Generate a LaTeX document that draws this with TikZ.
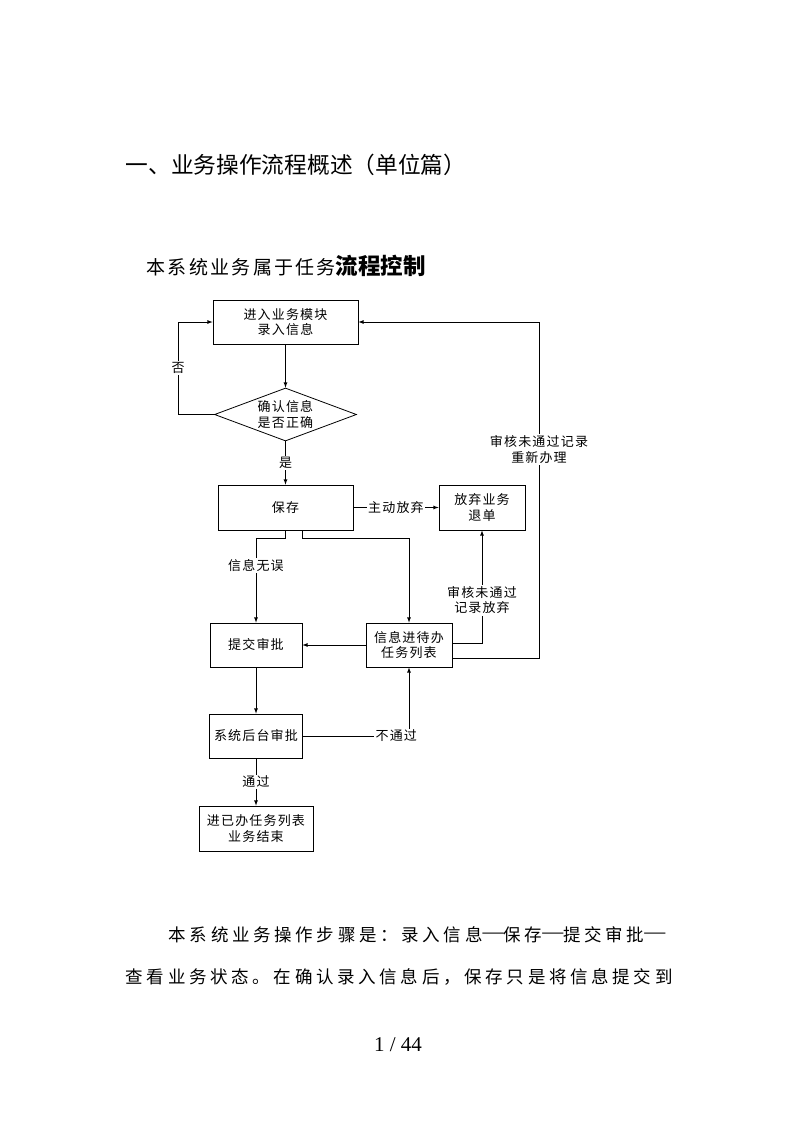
\documentclass[tikz,border=0pt]{standalone}
\usepackage{fontspec}
\setmainfont{Liberation Serif}
\newfontfamily\cjk{Noto Sans CJK SC}
\newfontfamily\cjkbox[LetterSpace=9]{Noto Sans CJK SC}
\newfontfamily\cjksub[LetterSpace=12]{Noto Sans CJK SC}
\newfontfamily\cjkbody[LetterSpace=21]{Noto Sans CJK SC}
\newcommand{\longdash}{\raisebox{0.16em}{\rmfamily\fontsize{21}{22}\selectfont —}}
\usetikzlibrary{arrows,shapes.geometric}

\tikzset{
	box/.style={draw, rectangle, align=center, inner sep=0pt, font=\cjkbox\fontsize{13}{15.5}\selectfont},
	lbl/.style={fill=white, inner sep=1.5pt, align=center, font=\cjkbox\fontsize{13}{15.5}\selectfont},
}

\begin{document}
\begin{tikzpicture}[>=latex, x=1pt, y=-1pt, line width=0.8pt]
	\useasboundingbox [fill=white] (0,0) rectangle (793,1122);
	%Titoli
	\node [anchor=west, font=\cjk\fontsize{22.7}{26}\selectfont] (title) at (122,165) {一、业务操作流程概述（单位篇）};
	\node [anchor=west, font=\cjksub\fontsize{19}{24}\selectfont] (intro) at (143,266) {本系统业务属于任务{\cjk\bfseries\fontsize{22.5}{26}\selectfont 流程控制}};
	%Caselle
	\node [box, minimum width=145pt, minimum height=44pt] (entry) at (285.5,322) {进入业务模块\\录入信息};
	\node [box, diamond, aspect=2.68, minimum width=142pt, minimum height=53pt] (check) at (285.5,414.5) {确认信息\\是否正确};
	\node [box, minimum width=135pt, minimum height=45pt] (save) at (285.5,507.5) {保存};
	\node [box, minimum width=86pt, minimum height=45pt] (quit) at (482,507.5) {放弃业务\\退单};
	\node [box, minimum width=92pt, minimum height=44pt] (submit) at (256,645) {提交审批};
	\node [box, minimum width=86pt, minimum height=44pt] (pending) at (409,645) {信息进待办\\任务列表};
	\node [box, minimum width=93pt, minimum height=44pt] (backend) at (256,736) {系统后台审批};
	\node [box, minimum width=114pt, minimum height=45pt] (done) at (256,828.5) {进已办任务列表\\业务结束};
	%Punti di ritorno
	\coordinate (lloop) at (178,414.5);
	\coordinate (rloop) at (539,322);
	%Collegamenti
	\draw [->] (entry) -- (check);
	\draw [->] (check.west) -- (lloop) |- (entry.west) node [lbl, pos=0.25] {否};
	\draw [->] (check) -- (save) node [lbl, pos=0.5] {是};
	\draw [->] (save) -- (quit) node [lbl, pos=0.5] {主动放弃};
	\draw [->] (save.south) -- ++(0,8) -| (submit.north) node [lbl, pos=0.66] {信息无误};
	\draw [->] ([xshift=16.5pt]save.south) -- ++(0,8) -| (pending.north);
	\draw [->] (pending) -- (submit);
	\draw [->] ([yshift=2pt]pending.east) -| (quit.south) node [lbl, pos=0.69] {审核未通过\\记录放弃};
	\draw [->] ([yshift=-13pt]pending.east) -| (rloop) node [lbl, pos=0.81] {审核未通过记录\\重新办理} -- (entry.east);
	\draw [->] (submit) -- (backend);
	\draw [->] (backend.east) -| (pending.south) node [lbl, pos=0.44] {不通过};
	\draw [->] (backend) -- (done) node [lbl, pos=0.5] {通过};
	%Testo
	\node [anchor=west, font=\cjkbody\fontsize{17.5}{22}\selectfont] (line1) at (165,935) {本系统业务操作步骤是：录入信息\longdash 保存\longdash 提交审批\longdash};
	\node [anchor=west, font=\cjkbody\fontsize{17.5}{22}\selectfont] (line2) at (122,977) {查看业务状态。在确认录入信息后，保存只是将信息提交到};
	\node [font=\fontsize{21}{24}\selectfont] (page) at (398,1045) {1 / 44};
\end{tikzpicture}
\end{document}
